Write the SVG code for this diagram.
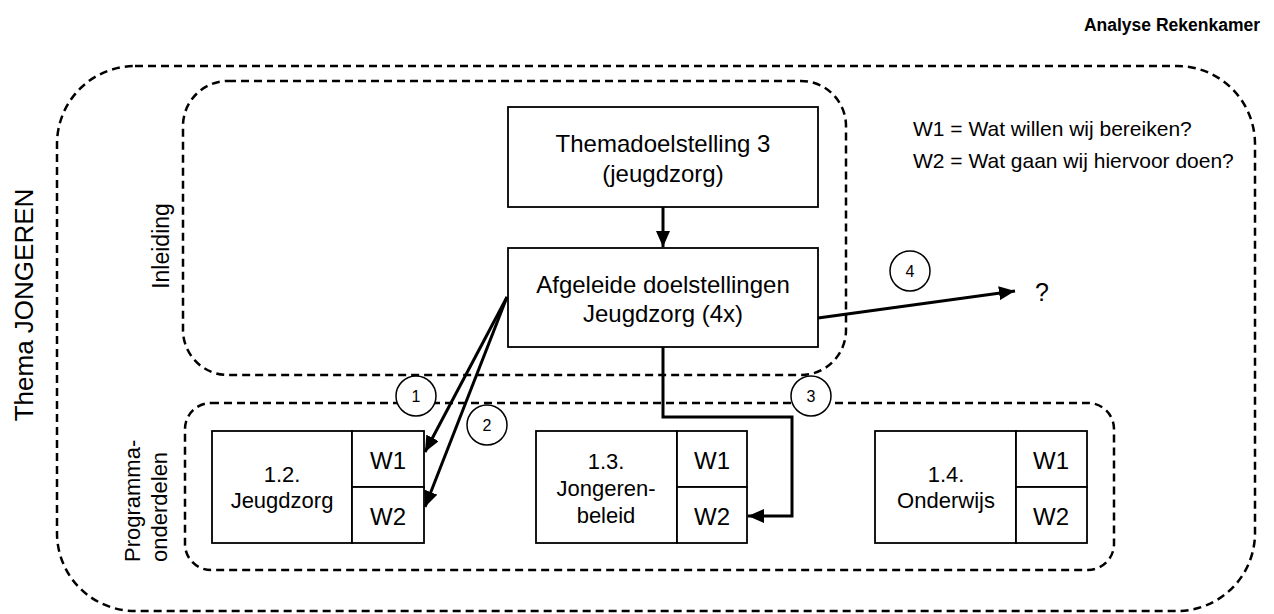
<svg xmlns="http://www.w3.org/2000/svg" width="1274" height="614" viewBox="0 0 1274 614">
  <style>
    text { font-family: "Liberation Sans", Arial, sans-serif; fill: #000; }
    .dash { fill: none; stroke: #000; stroke-width: 2.5; stroke-dasharray: 8 5; }
    .box { fill: #fff; stroke: #000; stroke-width: 1.8; }
    .arrow { fill: none; stroke: #000; stroke-width: 3; marker-end: url(#head); }
    .num { fill: #fff; stroke: #000; stroke-width: 1.5; }
    .t24 { font-size: 24px; text-anchor: middle; }
    .t22 { font-size: 22px; text-anchor: middle; }
    .n16 { font-size: 16px; text-anchor: middle; }
    .legend { font-size: 21px; }
  </style>
  <defs>
    <marker id="head" markerUnits="userSpaceOnUse" markerWidth="18" markerHeight="14" refX="16" refY="7" orient="auto">
      <path d="M0,0 L16,7 L0,14 Z" fill="#000"/>
    </marker>
  </defs>

  <rect width="1274" height="614" fill="#fff"/>

  <text x="1260" y="31" font-size="17.5" font-weight="bold" text-anchor="end">Analyse Rekenkamer</text>

  <!-- theme frame -->
  <g id="thema">
    <rect class="dash" x="57" y="66" width="1198" height="545" rx="78" ry="78"/>
    <text transform="translate(33,305) rotate(-90)" font-size="26" text-anchor="middle">Thema JONGEREN</text>
  </g>

  <!-- introduction section -->
  <g id="inleiding">
    <rect class="dash" x="183" y="81" width="663" height="294" rx="45" ry="45"/>
    <text transform="translate(169,246) rotate(-90)" font-size="23" text-anchor="middle">Inleiding</text>
  </g>

  <!-- programme parts section -->
  <g id="programmaonderdelen">
    <rect class="dash" x="185" y="403" width="929" height="167" rx="26" ry="26"/>
    <text transform="translate(140,562) rotate(-90)" font-size="22">Programma-</text>
    <text transform="translate(167,562) rotate(-90)" font-size="22">onderdelen</text>
  </g>

  <g id="legenda">
    <text class="legend" x="913" y="136">W1 = Wat willen wij bereiken?</text>
    <text class="legend" x="913" y="168">W2 = Wat gaan wij hiervoor doen?</text>
  </g>

  <g id="themadoelstelling">
    <rect class="box" x="508" y="107" width="310" height="100"/>
    <text class="t24" x="663" y="152">Themadoelstelling 3</text>
    <text class="t24" x="663" y="182">(jeugdzorg)</text>
  </g>

  <g id="afgeleide">
    <rect class="box" x="508" y="248" width="310" height="99"/>
    <text class="t24" x="663" y="293">Afgeleide doelstellingen</text>
    <text class="t24" x="663" y="322">Jeugdzorg (4x)</text>
  </g>

  <g id="jeugdzorg">
    <rect class="box" x="212" y="431" width="140" height="112"/>
    <rect class="box" x="352" y="431" width="72" height="56"/>
    <rect class="box" x="352" y="487" width="72" height="56"/>
    <text class="t22" x="282" y="482">1.2.</text>
    <text class="t22" x="282" y="508">Jeugdzorg</text>
    <text class="t24" x="388" y="469">W1</text>
    <text class="t24" x="388" y="525">W2</text>
  </g>

  <g id="jongerenbeleid">
    <rect class="box" x="536" y="431" width="141" height="112"/>
    <rect class="box" x="677" y="431" width="70" height="56"/>
    <rect class="box" x="677" y="487" width="70" height="56"/>
    <text class="t22" x="606" y="469">1.3.</text>
    <text class="t22" x="606" y="496">Jongeren-</text>
    <text class="t22" x="606" y="523">beleid</text>
    <text class="t24" x="712" y="469">W1</text>
    <text class="t24" x="712" y="525">W2</text>
  </g>

  <g id="onderwijs">
    <rect class="box" x="875" y="431" width="141" height="112"/>
    <rect class="box" x="1016" y="431" width="71" height="56"/>
    <rect class="box" x="1016" y="487" width="71" height="56"/>
    <text class="t22" x="946" y="482">1.4.</text>
    <text class="t22" x="946" y="508">Onderwijs</text>
    <text class="t24" x="1051" y="469">W1</text>
    <text class="t24" x="1051" y="525">W2</text>
  </g>

  <g id="vraag">
    <text x="1035" y="301" font-size="25">?</text>
  </g>

  <!-- connectors -->
  <g id="connectors">
    <line class="arrow" x1="663" y1="207" x2="663" y2="247"/>
    <line class="arrow" x1="507" y1="297" x2="425" y2="452"/>
    <line class="arrow" x1="507" y1="297" x2="425" y2="507"/>
    <path class="arrow" d="M663,347 V417 H792 V516 H748"/>
    <line class="arrow" x1="818" y1="318" x2="1015" y2="291"/>
  </g>

  <!-- numbered markers -->
  <g id="nummers">
    <circle class="num" cx="416" cy="396" r="20"/>
    <text class="n16" x="416" y="402">1</text>
    <circle class="num" cx="487" cy="425" r="20"/>
    <text class="n16" x="487" y="431">2</text>
    <circle class="num" cx="811" cy="396" r="20"/>
    <text class="n16" x="811" y="402">3</text>
    <circle class="num" cx="910" cy="271" r="20"/>
    <text class="n16" x="910" y="277">4</text>
  </g>
</svg>
